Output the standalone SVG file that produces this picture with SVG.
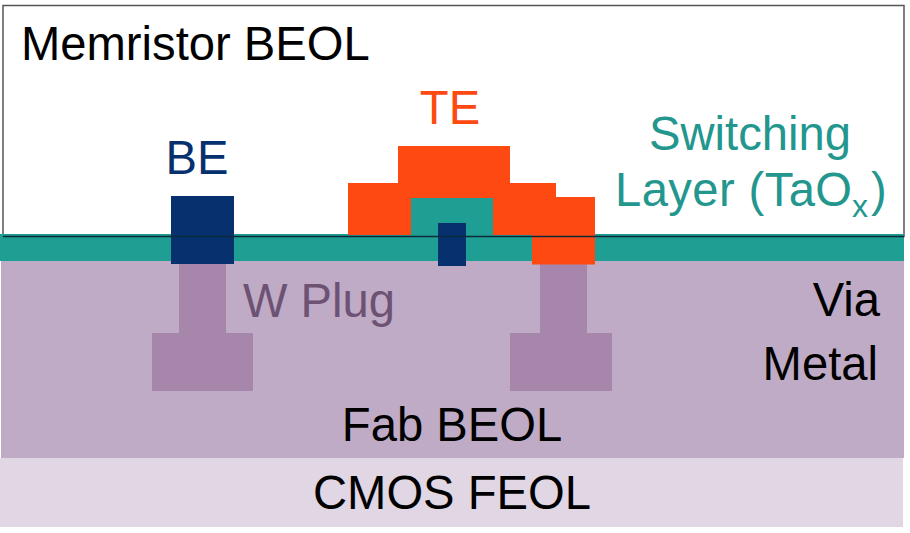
<svg xmlns="http://www.w3.org/2000/svg" width="910" height="533" viewBox="0 0 910 533">
<style>
text{font-family:"Liberation Sans",Arial,sans-serif;font-size:47.200px}
.teal{fill:#1f9e94}.tealtext{fill:#23968e}.navy{fill:#06306e}.orange{fill:#fe4a12}.plug{fill:#a687ab}
.k{fill:#000}
</style>
<rect width="910" height="533" fill="#fff"/>
<g id="cmos-feol"><rect x="0" y="458" width="903" height="69" fill="#e0d6e4"/><text class="k" x="452" y="509" text-anchor="middle">CMOS FEOL</text></g>
<g id="fab-beol"><rect x="1" y="261" width="903" height="197" fill="#bfabc6"/><text class="k" x="452" y="441" text-anchor="middle">Fab BEOL</text></g>
<g id="memristor-beol"><rect x="3" y="5.500" width="901" height="231" fill="#fff" stroke="#555" stroke-width="1.500"/><text class="k" x="21" y="60">Memristor BEOL</text></g>
<g id="switching-layer"><rect x="0" y="234" width="904" height="27" class="teal"/><text class="tealtext" x="750" y="150" text-anchor="middle">Switching</text><text class="tealtext" x="615" y="206" letter-spacing="0.400">Layer (TaO<tspan font-size="32" x="852" y="217" letter-spacing="0">x</tspan><tspan x="871" y="206" letter-spacing="0">)</tspan></text></g>
<g id="w-plug-left"><rect x="179" y="264" width="47" height="69" class="plug"/><rect x="152" y="333" width="101" height="58" class="plug"/></g>
<g id="w-plug-right"><rect x="540" y="264" width="47" height="69" class="plug"/><rect x="510" y="333" width="102" height="58" class="plug"/></g>
<g id="w-plug-label"><text x="319" y="317" text-anchor="middle" fill="#6d5273">W Plug</text></g>
<g id="te"><path class="orange" d="M398 146H510V183H556V197H595V264.500H532V235H348V183H398Z"/><text x="450" y="124" text-anchor="middle" fill="#fe4a12">TE</text></g>
<g id="switching-island"><rect x="411" y="198" width="82" height="37" class="teal"/></g>
<g id="be-small"><rect x="438" y="223" width="28" height="43" class="navy"/></g>
<g id="be"><rect x="171" y="196" width="63" height="68" class="navy"/><text x="197" y="174" text-anchor="middle" fill="#06306e">BE</text></g>
<g id="via-metal"><text class="k" x="880" y="316" text-anchor="end">Via</text><text class="k" x="878" y="380" text-anchor="end">Metal</text></g>
<g id="connectors"><line x1="3" y1="236.500" x2="904" y2="236.500" stroke="#0b2a3a" stroke-width="1.500"/></g>
</svg>
